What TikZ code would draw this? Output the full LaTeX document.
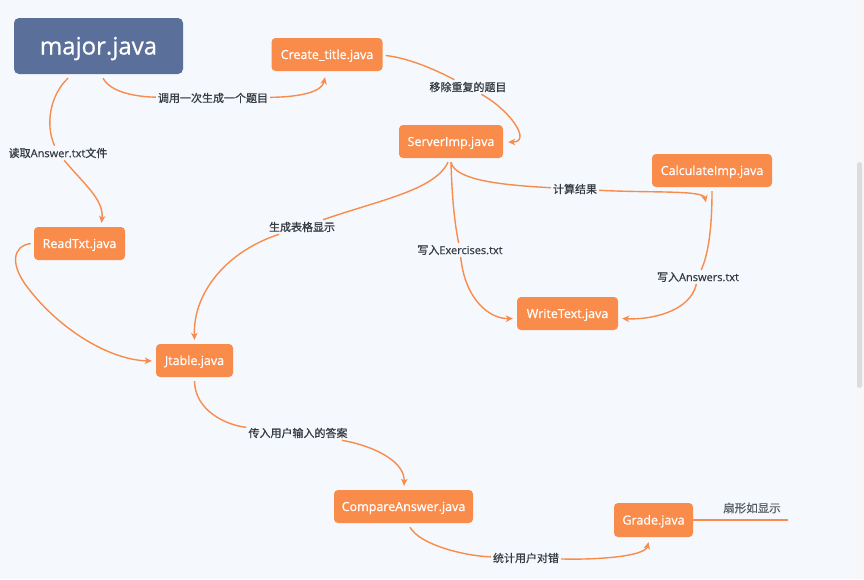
\documentclass[tikz,border=0pt]{standalone}
\usepackage{fontspec}
\setmainfont{Open Sans}
\newfontfamily\cjk{Noto Sans CJK SC}[FakeBold=0.8]
\newfontfamily\nodefont{Open Sans}[FakeBold=0.8]
\newfontfamily\lblfont{Open Sans}[FakeBold=0.5]
\usetikzlibrary{calc,arrows.meta}
\definecolor{bgC}{HTML}{F5F9FD}
\definecolor{orangeC}{HTML}{F98B4B}
\definecolor{majorC}{HTML}{5A6F99}
\definecolor{lblC}{HTML}{363B42}
\definecolor{sideC}{HTML}{555A60}
\definecolor{stripC}{HTML}{F7F7F7}
\definecolor{thumbC}{HTML}{DCDCDC}
\newcommand{\zh}[1]{{\cjk #1}}
\begin{document}
\begin{tikzpicture}[x=1pt,y=-1pt,
  box/.style={rectangle, rounded corners=4pt, fill=orangeC, text=white,
    font=\nodefont\fontsize{12.5}{14}\selectfont, minimum height=33pt, inner sep=0pt,
    text height=9pt, text depth=0pt},
  mainbox/.style={rectangle, rounded corners=5pt, fill=majorC, text=white,
    font=\nodefont\fontsize{24}{28}\selectfont, minimum width=169pt, minimum height=56pt, inner sep=0pt,
    text height=17pt, text depth=0pt},
  lbl/.style={fill=bgC, text=lblC, font=\lblfont\fontsize{11}{13}\selectfont, inner sep=2pt},
  conn/.style={draw=orangeC, line width=1.4pt, -{Stealth[length=7pt,width=6.5pt,inset=2pt]}},
  plain/.style={draw=orangeC, line width=1.4pt}
]
\fill[bgC] (0,0) rectangle (864,579);
\useasboundingbox (0,0) rectangle (864,579);
\fill[stripC] (855,0) rectangle (864,579);
\fill[thumbC, rounded corners=2.5pt] (857,162) rectangle (862,388);

% nodes
\node[mainbox] (major) at (98.5,46) {major.java};
\node[box, minimum width=111pt] (create) at (327,54.5) {Create\_title.java};
\node[box, minimum width=104pt] (server) at (451,141.5) {ServerImp.java};
\node[box, minimum width=120pt] (calcimp) at (712,170.5) {CalculateImp.java};
\node[box, minimum width=91pt] (readtxt) at (79.5,243.5) {ReadTxt.java};
\node[box, minimum width=101pt] (writetext) at (567.5,313.5) {WriteText.java};
\node[box, minimum width=77pt] (jtable) at (194.5,360.5) {Jtable.java};
\node[box, minimum width=139pt] (compare) at (403.5,506.5) {CompareAnswer.java};
\node[box, minimum width=79pt, minimum height=34pt] (grade) at (653.5,520) {Grade.java};

% labels
\node[lbl] (l1) at (213,98) {\zh{调用一次生成一个题目}};
\node[lbl] (l2) at (468,87) {\zh{移除重复的题目}};
\node[lbl] (l3) at (58,153) {\zh{读取}Answer.txt\zh{文件}};
\node[lbl] (l5) at (302,227) {\zh{生成表格显示}};
\node[lbl] (l6) at (575,189) {\zh{计算结果}};
\node[lbl] (l7) at (460,250) {\zh{写入}Exercises.txt};
\node[lbl] (l8) at (698,277) {\zh{写入}Answers.txt};
\node[lbl] (l9) at (298,433) {\zh{传入用户输入的答案}};
\node[lbl] (l10) at (526,558) {\zh{统计用户对错}};
\node[font=\fontsize{11.5}{13}\selectfont, text=sideC, inner sep=0pt] (l11) at (752,508) {{\cjk\addfontfeatures{FakeBold=0.2}扇形如显示}};
\coordinate (gradeEnd) at (788,520);

% connectors
\draw[plain] ($(major.south)+(4.5,4)$) .. controls (112,95) and (145,97) .. (l1);
\draw[conn] (l1) .. controls (300,97) and (322,92) .. ($(create.south)+(-2,6)$);

\draw[plain] ($(create.east)+(3,1)$) .. controls (410,58) and (440,72) .. (l2);
\draw[conn] (l2) .. controls (510,110) and (532,142) .. ($(server.east)+(5,0.5)$);

\draw[plain] ($(major.south)+(-30.5,4)$) .. controls (50,95) and (45,125) .. (l3);
\draw[conn] (l3) .. controls (85,185) and (104,200) .. ($(readtxt.north)+(22,-4)$);

\draw[conn] ($(readtxt.west)+(-3,0)$) .. controls (12,246) and (10,265) .. (28,288)
  .. controls (60,330) and (110,360) .. ($(jtable.west)+(-4,0.5)$);

\draw[plain] ($(server.south)+(-3,4)$) .. controls (435,190) and (380,200) .. (l5);
\draw[conn] (l5) .. controls (230,250) and (193,290) .. ($(jtable.north)+(0,-4)$);

\draw[plain] ($(server.south)+(0,4)$) .. controls (455,180) and (500,185) .. (l6);
\draw[conn] (l6) .. controls (650,193) and (703,190) .. ($(calcimp.south)+(-6,15)$);

\draw[plain] ($(server.south)+(0,4)$) .. controls (452,200) and (455,225) .. (l7);
\draw[conn] (l7) .. controls (465,300) and (490,319) .. ($(writetext.west)+(-4,5)$);

\draw[plain] ($(calcimp.south)+(0,4)$) .. controls (712,230) and (708,255) .. (l8);
\draw[conn] (l8) .. controls (690,312) and (650,320) .. ($(writetext.east)+(4,5)$);

\draw[plain] ($(jtable.south)+(0,4)$) .. controls (195,410) and (225,425) .. (l9);
\draw[conn] (l9) .. controls (370,445) and (405,460) .. ($(compare.north)+(0.5,-4)$);

\draw[plain] ($(compare.south)+(6.5,4)$) .. controls (420,545) and (465,556) .. (l10);
\draw[conn] (l10) .. controls (600,560) and (645,556) .. ($(grade.south)+(-5,5)$);

\draw[plain] (grade.east) -- (gradeEnd);
\end{tikzpicture}
\end{document}
